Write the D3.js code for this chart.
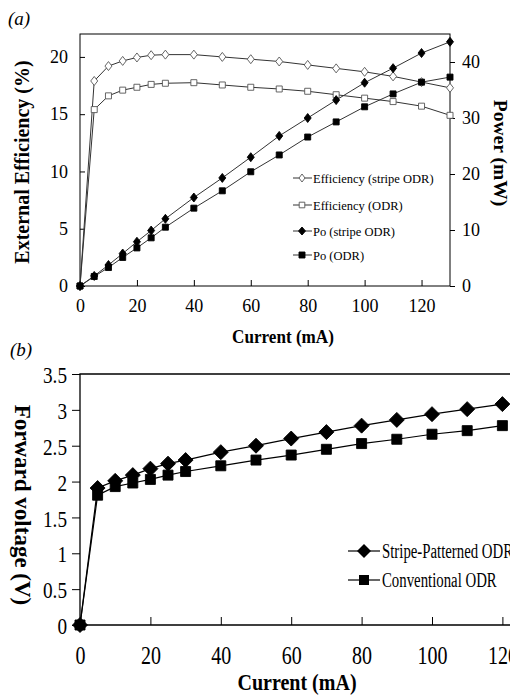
<!DOCTYPE html>
<html>
<head>
<meta charset="utf-8">
<script src="https://cdn.jsdelivr.net/npm/d3@7"></script>
<style>
body { margin: 0; background: #fff; }
svg { display: block; }
svg text { font-family: "Liberation Serif", "Times New Roman", serif; }
.domain { display: none; }
</style>
</head>
<body>
<svg id="chart" width="510" height="695"></svg>
<script>
// (a) efficiency and output power vs current
const currentA = [0, 5, 10, 15, 20, 25, 30, 40, 50, 60, 70, 80, 90, 100, 110, 120, 130];
const effStripe = [0, 17.9, 19.2, 19.65, 19.95, 20.15, 20.2, 20.2, 20.0, 19.8, 19.6, 19.3, 19.0, 18.7, 18.3, 17.8, 17.3];
const effOdr = [0, 15.4, 16.6, 17.1, 17.35, 17.6, 17.7, 17.75, 17.55, 17.35, 17.2, 17.0, 16.7, 16.4, 16.1, 15.7, 14.9];
const poStripe = [0, 1.8, 3.75, 5.8, 7.9, 9.9, 12.0, 15.8, 19.3, 23.0, 26.8, 30.0, 33.2, 36.3, 38.9, 41.6, 43.6];
const poOdr = [0, 1.7, 3.3, 5.1, 6.8, 8.6, 10.5, 13.9, 17.0, 20.4, 23.4, 26.6, 29.3, 32.0, 34.3, 36.4, 37.3];
const topXTicks = [0, 20, 40, 60, 80, 100, 120];
const effTicks = [0, 5, 10, 15, 20];
const powerTicks = [0, 10, 20, 30, 40];
const topLegend = ['Efficiency (stripe ODR)', 'Efficiency (ODR)', 'Po (stripe ODR)', 'Po (ODR)'];

// (b) forward voltage vs current
const currentB = [0, 5, 10, 15, 20, 25, 30, 40, 50, 60, 70, 80, 90, 100, 110, 120];
const vStripe = [0, 1.91, 2.01, 2.09, 2.18, 2.25, 2.30, 2.41, 2.50, 2.60, 2.69, 2.78, 2.86, 2.94, 3.01, 3.08];
const vConv = [0, 1.81, 1.93, 1.98, 2.03, 2.09, 2.14, 2.22, 2.30, 2.37, 2.45, 2.53, 2.59, 2.66, 2.71, 2.78];
const bottomXTicks = [0, 20, 40, 60, 80, 100, 120];
const voltTicks = [0, 0.5, 1, 1.5, 2, 2.5, 3, 3.5];
const bottomLegend = ['Stripe-Patterned ODR', 'Conventional ODR'];

const serif = '"Liberation Serif", "Times New Roman", serif';
const svg = d3.select('#chart');

function diamond(w, h) { return `M0,${-h}L${w},0L0,${h}L${-w},0Z`; }
function square(s) { return `M${-s},${-s}H${s}V${s}H${-s}Z`; }

// squeeze text horizontally (the original fonts are narrow)
function condense(sel, s) {
    sel.each(function () {
        const len = this.getComputedTextLength();
        d3.select(this).attr('textLength', len * s).attr('lengthAdjust', 'spacingAndGlyphs');
    });
}

function drawSeries(g, xs, ys, x, y, shape, fill, stroke, lineColor, lineWidth) {
    const pts = xs.map((v, i) => [x(v), y(ys[i])]);
    g.append('path')
        .attr('d', d3.line()(pts))
        .attr('fill', 'none')
        .attr('stroke', lineColor)
        .attr('stroke-width', lineWidth);
    g.selectAll(null).data(pts).enter().append('path')
        .attr('transform', d => `translate(${d[0]},${d[1]})`)
        .attr('d', shape)
        .attr('fill', fill)
        .attr('stroke', stroke)
        .attr('stroke-width', 0.9);
}

// ---------- panel (a) ----------
const xA = d3.scaleLinear().domain([0, 130]).range([80, 450]);
const yEff = d3.scaleLinear().domain([0, 22]).range([286, 34]);
const yPow = d3.scaleLinear().domain([0, 45]).range([286, 34]);

const gA = svg.append('g');

gA.append('rect')
    .attr('x', xA(0)).attr('y', yEff(22))
    .attr('width', xA(130) - xA(0)).attr('height', yEff(0) - yEff(22))
    .attr('fill', 'none').attr('stroke', '#000').attr('stroke-width', 1);

const axA_left = gA.append('g').attr('transform', `translate(${xA(0)},0)`)
    .call(d3.axisLeft(yEff).tickValues(effTicks).tickSize(-5).tickPadding(12));
const axA_right = gA.append('g').attr('transform', `translate(${xA(130)},0)`)
    .call(d3.axisRight(yPow).tickValues(powerTicks).tickSize(5).tickPadding(7));
const axA_bottom = gA.append('g').attr('transform', `translate(0,${yEff(0)})`)
    .call(d3.axisBottom(xA).tickValues(topXTicks).tickSize(-6));
axA_bottom.selectAll('text').attr('y', 26).attr('dy', 0);

[axA_left, axA_right, axA_bottom].forEach(a => {
    a.attr('font-family', serif);
    a.selectAll('text').attr('font-size', 18).attr('font-family', serif).attr('fill', '#000');
    a.selectAll('line').attr('stroke', '#000');
});

drawSeries(gA, currentA, effStripe, xA, yEff, diamond(3.5, 4.5), '#fff', '#555', '#333', 1);
drawSeries(gA, currentA, effOdr, xA, yEff, square(3), '#fff', '#555', '#333', 1);
drawSeries(gA, currentA, poStripe, xA, yPow, diamond(3.5, 4.5), '#000', '#000', '#333', 1);
drawSeries(gA, currentA, poOdr, xA, yPow, square(3), '#000', '#000', '#333', 1);

// legend (a)
const legA = gA.append('g');
const legAShapes = [
    [diamond(3, 4), '#fff', '#555'],
    [square(2.8), '#fff', '#555'],
    [diamond(3.5, 4), '#000', '#000'],
    [square(3), '#000', '#000']
];
const legARows = [178, 205, 231, 255];
topLegend.forEach((name, i) => {
    const yy = legARows[i];
    legA.append('line').attr('x1', 293).attr('x2', 312).attr('y1', yy).attr('y2', yy)
        .attr('stroke', '#333').attr('stroke-width', 1);
    legA.append('path').attr('transform', `translate(302,${yy})`).attr('d', legAShapes[i][0])
        .attr('fill', legAShapes[i][1]).attr('stroke', legAShapes[i][2]).attr('stroke-width', 0.9);
    legA.append('text').attr('x', 313).attr('y', yy + 4.5)
        .attr('font-family', serif).attr('font-size', 12.5).text(name);
});

// titles (a)
gA.append('text').attr('transform', 'translate(29,162) rotate(-90)')
    .attr('text-anchor', 'middle').attr('font-size', 20).attr('font-weight', 'bold')
    .attr('font-family', serif).text('External Efficiency (%)');
gA.append('text').attr('transform', 'translate(494,153) rotate(90)')
    .attr('text-anchor', 'middle').attr('font-size', 19.5).attr('font-weight', 'bold')
    .attr('font-family', serif).text('Power (mW)');
gA.append('text').attr('x', 283).attr('y', 343)
    .attr('text-anchor', 'middle').attr('font-size', 19).attr('font-weight', 'bold')
    .attr('font-family', serif).text('Current (mA)').call(condense, 0.9);
gA.append('text').attr('x', 8).attr('y', 25).attr('font-size', 19).attr('font-style', 'italic')
    .attr('font-family', serif).text('(a)');

// ---------- panel (b) ----------
const xB = d3.scaleLinear().domain([0, 130]).range([80, 80 + 3.52 * 130]);
const yV = d3.scaleLinear().domain([0, 3.5]).range([625, 374]);

const gB = svg.append('g');

gB.append('path')
    .attr('d', `M${xB(130)},${yV(3.5)}H${xB(0)}V${yV(0)}H${xB(130)}`)
    .attr('fill', 'none').attr('stroke', '#000').attr('stroke-width', 1.3);

const axB_left = gB.append('g').attr('transform', `translate(${xB(0)},0)`)
    .call(d3.axisLeft(yV).tickValues(voltTicks).tickFormat(d3.format('')).tickSize(8).tickPadding(5));
const axB_bottom = gB.append('g').attr('transform', `translate(0,${yV(0)})`)
    .call(d3.axisBottom(xB).tickValues(bottomXTicks).tickSize(-8));
axB_bottom.selectAll('text').attr('y', 39).attr('dy', 0);

axB_left.selectAll('text').attr('font-size', 24).attr('dy', '0.36em');
axB_bottom.selectAll('text').attr('font-size', 25);
[axB_left, axB_bottom].forEach(a => {
    a.attr('font-family', serif);
    a.selectAll('text').attr('font-family', serif).attr('fill', '#000');
    a.selectAll('line').attr('stroke', '#000');
});
axB_left.selectAll('text').call(condense, 0.8);
axB_bottom.selectAll('text').call(condense, 0.8);

drawSeries(gB, currentB, vStripe, xB, yV, diamond(7.5, 7.5), '#000', '#000', '#000', 1.2);
drawSeries(gB, currentB, vConv, xB, yV, square(5), '#000', '#000', '#000', 1.2);

// legend (b)
const legB = gB.append('g');
const legBShapes = [diamond(7, 7), square(5)];
const legBRows = [551, 580];
bottomLegend.forEach((name, i) => {
    const yy = legBRows[i];
    legB.append('line').attr('x1', 348).attr('x2', 380).attr('y1', yy).attr('y2', yy)
        .attr('stroke', '#000').attr('stroke-width', 1.2);
    legB.append('path').attr('transform', `translate(364,${yy})`).attr('d', legBShapes[i])
        .attr('fill', '#000');
    legB.append('text').attr('x', 382).attr('y', yy + 7)
        .attr('font-family', serif).attr('font-size', 20).text(name).call(condense, 0.74);
});

// titles (b)
gB.append('text').attr('transform', 'translate(15,505) rotate(90)')
    .attr('text-anchor', 'middle').attr('font-size', 23).attr('font-weight', 'bold')
    .attr('font-family', serif).text('Forward voltage (V)');
gB.append('text').attr('x', 297).attr('y', 690)
    .attr('text-anchor', 'middle').attr('font-size', 23).attr('font-weight', 'bold')
    .attr('font-family', serif).text('Current (mA)').call(condense, 0.87);
gB.append('text').attr('x', 10).attr('y', 356).attr('font-size', 19).attr('font-style', 'italic')
    .attr('font-family', serif).text('(b)');
</script>
</body>
</html>
